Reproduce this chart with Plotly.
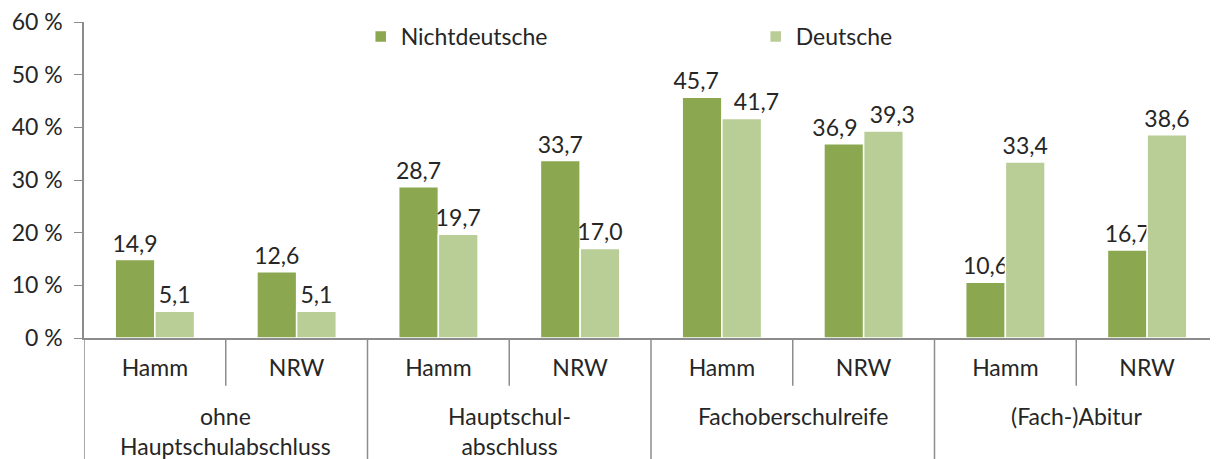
import plotly.graph_objects as go

gruppen = ["ohne<br>Hauptschulabschluss", "Hauptschul-<br>abschluss",
           "Fachoberschulreife", "(Fach-)Abitur"]
orte = ["Hamm", "NRW"]

nichtdeutsche = [14.9, 12.6, 28.7, 33.7, 45.7, 36.9, 10.6, 16.7]
deutsche = [5.1, 5.1, 19.7, 17.0, 41.7, 39.3, 33.4, 38.6]

# eindeutige Kategorien, angezeigt wird nur der Ort
kategorien = [f"{g}|{o}" for g in gruppen for o in orte]
ort_text = [o for _ in gruppen for o in orte]

schrift = dict(family="Lato", size=23, color="#262626")
linie = "#8C8C8C"

# Beschriftungen bei Fachoberschulreife etwas auseinanderziehen (wie im Original)
nb = "\u00a0"
vorlage_nd = ["%{y:.1f}"] * 8
vorlage_d = ["%{y:.1f}"] * 8
vorlage_nd[4] = "%{y:.1f}" + nb * 2
vorlage_nd[5] = "%{y:.1f}" + nb * 3
vorlage_d[4] = nb * 5 + "%{y:.1f}"
vorlage_d[5] = nb * 3 + "%{y:.1f}"

fig = go.Figure()
fig.add_trace(go.Bar(x=kategorien, y=nichtdeutsche, name="Nichtdeutsche",
                     marker=dict(color="#8BA750", line=dict(color="white", width=1.5)),
                     texttemplate=vorlage_nd, textposition="outside",
                     constraintext="none", textfont=schrift, cliponaxis=False))
fig.add_trace(go.Bar(x=kategorien, y=deutsche, name="Deutsche",
                     marker=dict(color="#B9CD96", line=dict(color="white", width=1.5)),
                     texttemplate=vorlage_d, textposition="outside",
                     constraintext="none", textfont=schrift, cliponaxis=False))

# Trennlinien unter der x-Achse
for i in range(len(gruppen)):
    fig.add_shape(type="line", xref="x", yref="paper", x0=2 * i + 0.5, x1=2 * i + 0.5,
                  y0=0, y1=-0.151, line=dict(color=linie, width=1.5))
    fig.add_shape(type="line", xref="x", yref="paper", x0=2 * i - 0.5, x1=2 * i - 0.5,
                  y0=0, y1=-0.39, line=dict(color=linie, width=1.5))
    fig.add_annotation(x=2 * i + 0.5, xref="x", y=-0.195, yref="paper",
                       text=gruppen[i], showarrow=False, yanchor="top",
                       font=schrift)

fig.update_layout(
    width=1210, height=451,
    margin=dict(l=76, r=0, t=14, b=121),
    paper_bgcolor="white", plot_bgcolor="white",
    font=schrift,
    separators=",.",
    barmode="group", bargap=0.44, bargroupgap=0,
    legend=dict(orientation="h", x=0.244, y=1.022, xanchor="left", yanchor="top",
                entrywidth=350, entrywidthmode="pixels",
                font=schrift, bgcolor="rgba(0,0,0,0)"),
)
fig.update_yaxes(range=[0, 60], dtick=10, ticksuffix=" %", showgrid=False,
                 showline=True, linecolor=linie, linewidth=1.5,
                 ticks="outside", ticklen=8, tickcolor=linie, ticklabelstandoff=7,
                 ticklabeloverflow="allow",
                 zeroline=False, tickfont=schrift, automargin=False)
fig.update_xaxes(showline=True, linecolor=linie, linewidth=1.5,
                 tickvals=kategorien, ticktext=ort_text, ticks="", ticklabelstandoff=9,
                 range=[-0.5, 7.5], tickfont=schrift, automargin=False)

fig.write_html("out.html")
